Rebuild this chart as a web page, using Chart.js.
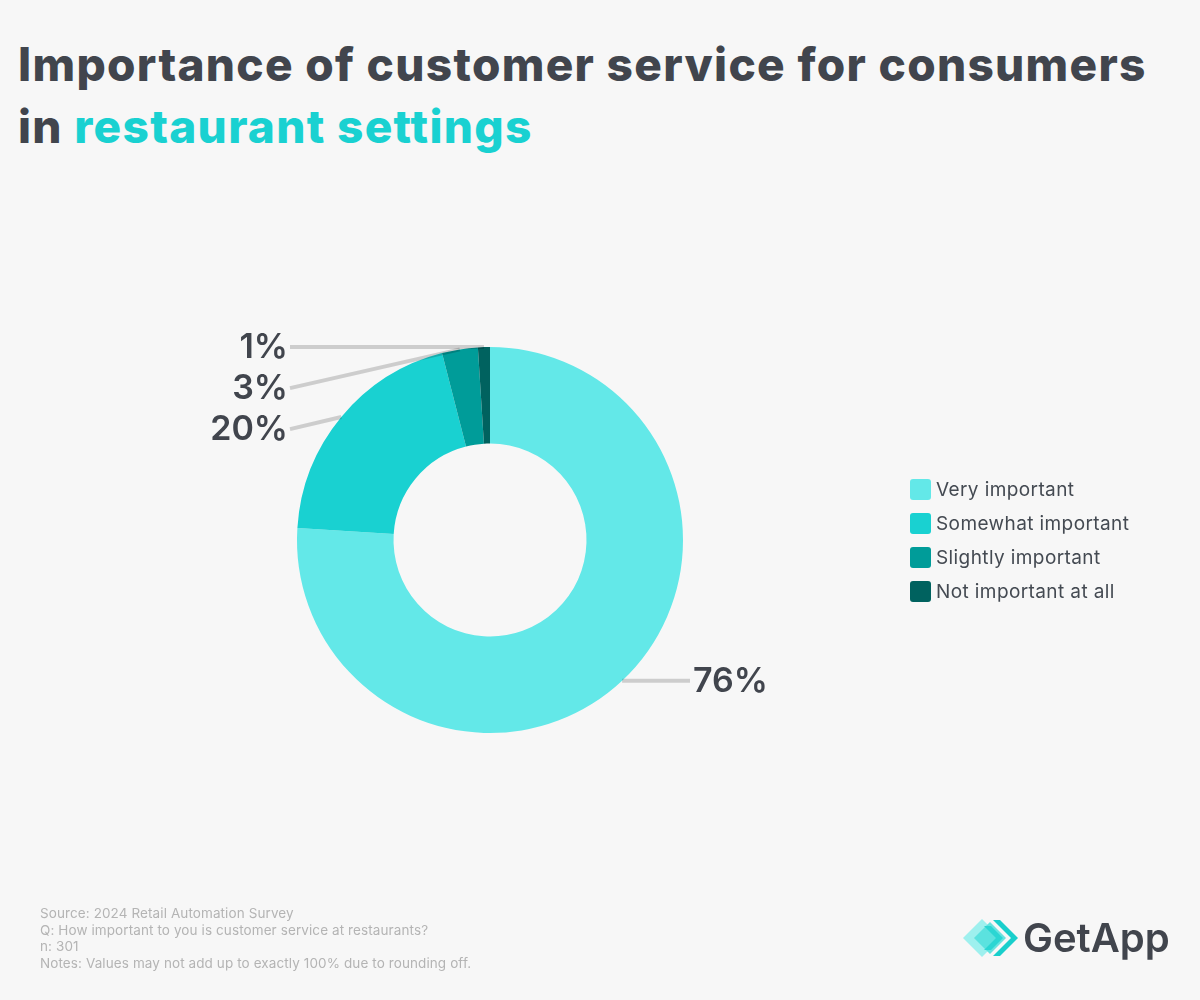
<!DOCTYPE html>
<html>
<head>
<meta charset="utf-8">
<script src="https://cdn.jsdelivr.net/npm/chart.js@4"></script>
<style>
  html, body { margin: 0; padding: 0; }
  body { width: 1200px; height: 1000px; background: #f7f7f7; position: relative; overflow: hidden; font-family: Inter, "Open Sans", sans-serif; }
  #title { position: absolute; left: 18px; top: 33px; margin: 0; font-size: 46px; line-height: 62px; font-weight: 800; color: #41454d; letter-spacing: 1.3px; }
  #title .hl { color: #19d1d1; }
  #chartBox { position: absolute; left: 0; top: 0; width: 1200px; height: 1000px; }
  #legend { position: absolute; left: 910px; top: 472px; list-style: none; margin: 0; padding: 0; }
  #legend li { height: 34px; display: flex; align-items: center; font-size: 19px; letter-spacing: 0.4px; color: #444a52; }
  #legend .box { width: 21px; height: 21px; border-radius: 3px; margin-right: 5px; }
  #footer { position: absolute; left: 40px; top: 905px; font-size: 13.5px; line-height: 16.6px; letter-spacing: 0.1px; color: #b4b4b4; }
  #logo { position: absolute; left: 960px; top: 912px; }
</style>
</head>
<body>
<h1 id="title">Importance of customer service for consumers<br>in <span class="hl">restaurant settings</span></h1>
<div id="chartBox"><canvas id="donut"></canvas></div>
<ul id="legend"></ul>
<div id="footer">
  Source: 2024 Retail Automation Survey<br>
  Q: How important to you is customer service at restaurants?<br>
  n: 301<br>
  Notes: Values may not add up to exactly 100% due to rounding off.
</div>
<svg id="logo" width="220" height="52" viewBox="0 0 220 52">
  <polygon points="3,26 22,7 41,26 22,45" fill="#9ef0ee"/>
  <polygon points="14,26 30,10 46,26 30,42" fill="#4fdfdc" opacity="0.85"/>
  <polygon points="33,8 40,8 58,26 40,44 33,44 51,26" fill="#19cfcc"/>
  <polygon points="24,14 31,14 43,26 31,38 24,38 36,26" fill="#2bd6d3"/>
  <text x="63" y="40" font-family="Inter, sans-serif" font-size="40" font-weight="600" fill="#41454d">GetApp</text>
</svg>

<script>
const categories = ["Very important", "Somewhat important", "Slightly important", "Not important at all"];
const shares = [76, 20, 3, 1];
const sliceColors = ["#63e8e8", "#19d1d1", "#009c99", "#00625f"];

// legend
const legendEl = document.getElementById("legend");
categories.forEach((c, i) => {
  const li = document.createElement("li");
  li.innerHTML = '<span class="box" style="background:' + sliceColors[i] + '"></span>' + c;
  legendEl.appendChild(li);
});

// labels mit Fuehrungslinien
const outsideLabels = {
  id: "outsideLabels",
  afterDatasetsDraw(chart) {
    const ctx = chart.ctx;
    const meta = chart.getDatasetMeta(0);
    const items = meta.data.map((arc, i) => {
      const mid = (arc.startAngle + arc.endAngle) / 2;
      return {
        i: i,
        x: arc.x + Math.cos(mid) * arc.outerRadius,
        y: arc.y + Math.sin(mid) * arc.outerRadius,
        cx: arc.x,
        r: arc.outerRadius,
        right: Math.cos(mid) >= 0
      };
    });
    const gap = 41;
    [true, false].forEach(side => {
      const list = items.filter(it => it.right === side).sort((a, b) => a.y - b.y);
      let prev = -Infinity;
      list.forEach(it => {
        it.ly = Math.max(it.y, prev + gap);
        prev = it.ly;
      });
    });
    ctx.save();
    items.forEach(it => {
      const endX = it.right ? it.cx + it.r + 7 : it.cx - it.r - 7;
      ctx.strokeStyle = "rgba(0,0,0,0.17)";
      ctx.lineWidth = 4;
      ctx.beginPath();
      ctx.moveTo(it.x, it.y);
      ctx.lineTo(endX, it.ly);
      ctx.stroke();
      ctx.fillStyle = "#41454d";
      ctx.font = "600 34px Inter, sans-serif";
      ctx.textBaseline = "middle";
      ctx.textAlign = it.right ? "left" : "right";
      ctx.fillText(shares[it.i] + "%", it.right ? endX + 3 : endX - 2, it.ly + 1);
    });
    ctx.restore();
  }
};

new Chart(document.getElementById("donut").getContext("2d"), {
  type: "doughnut",
  data: {
    labels: categories,
    datasets: [{
      data: shares,
      backgroundColor: sliceColors,
      borderWidth: 0
    }]
  },
  options: {
    responsive: true,
    maintainAspectRatio: false,
    animation: false,
    cutout: "50%",
    layout: { padding: { left: 297, right: 517, top: 347, bottom: 267 } },
    plugins: {
      legend: { display: false },
      tooltip: { enabled: false }
    }
  },
  plugins: [outsideLabels]
});
</script>
</body>
</html>
